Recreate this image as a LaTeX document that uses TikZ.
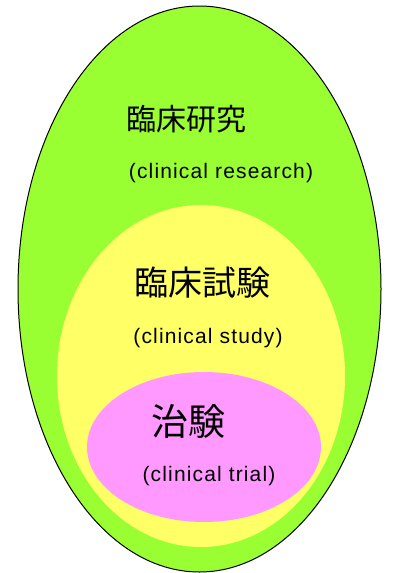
\documentclass[tikz,border=0pt]{standalone}
\usepackage{fontspec}
\setmainfont{Liberation Sans}
\newfontfamily\jpfont{Noto Sans CJK JP}
\newfontfamily\enfont[LetterSpace=5.5]{Liberation Sans}
\usetikzlibrary{shapes.geometric}
\definecolor{researchgreen}{RGB}{153,255,51}
\definecolor{studyyellow}{RGB}{255,255,102}
\definecolor{trialpink}{RGB}{255,153,255}

\begin{document}
\begin{tikzpicture}[
  x=1pt, y=-1pt,
  area/.style={ellipse, inner sep=0pt},
  jlabel/.style={font=\jpfont\fontsize{#1}{#1}\selectfont, inner sep=0pt},
  elabel/.style={font=\enfont\fontsize{21}{25}\selectfont, inner sep=0pt, anchor=base}
]
\useasboundingbox (0,0) rectangle (392,573);
\node[area, draw=black, line width=1pt, fill=researchgreen, minimum width=363pt, minimum height=566pt] (research) at (199.5,289) {};
\node[area, fill=studyyellow, minimum width=288pt, minimum height=342pt] (study) at (201,376) {};
\node[area, fill=trialpink, minimum width=234pt, minimum height=150pt] (trial) at (204,447) {};
\node[jlabel=30] (researchjp) at (186,119) {臨床研究};
\node[elabel] (researchen) at (221,178) {(clinical research)};
\node[jlabel=34] (studyjp) at (202,283) {臨床試験};
\node[elabel] (studyen) at (208,343) {(clinical study)};
\node[jlabel=37] (trialjp) at (188,421) {治験};
\node[elabel] (trialen) at (209,481) {(clinical trial)};
\end{tikzpicture}
\end{document}
